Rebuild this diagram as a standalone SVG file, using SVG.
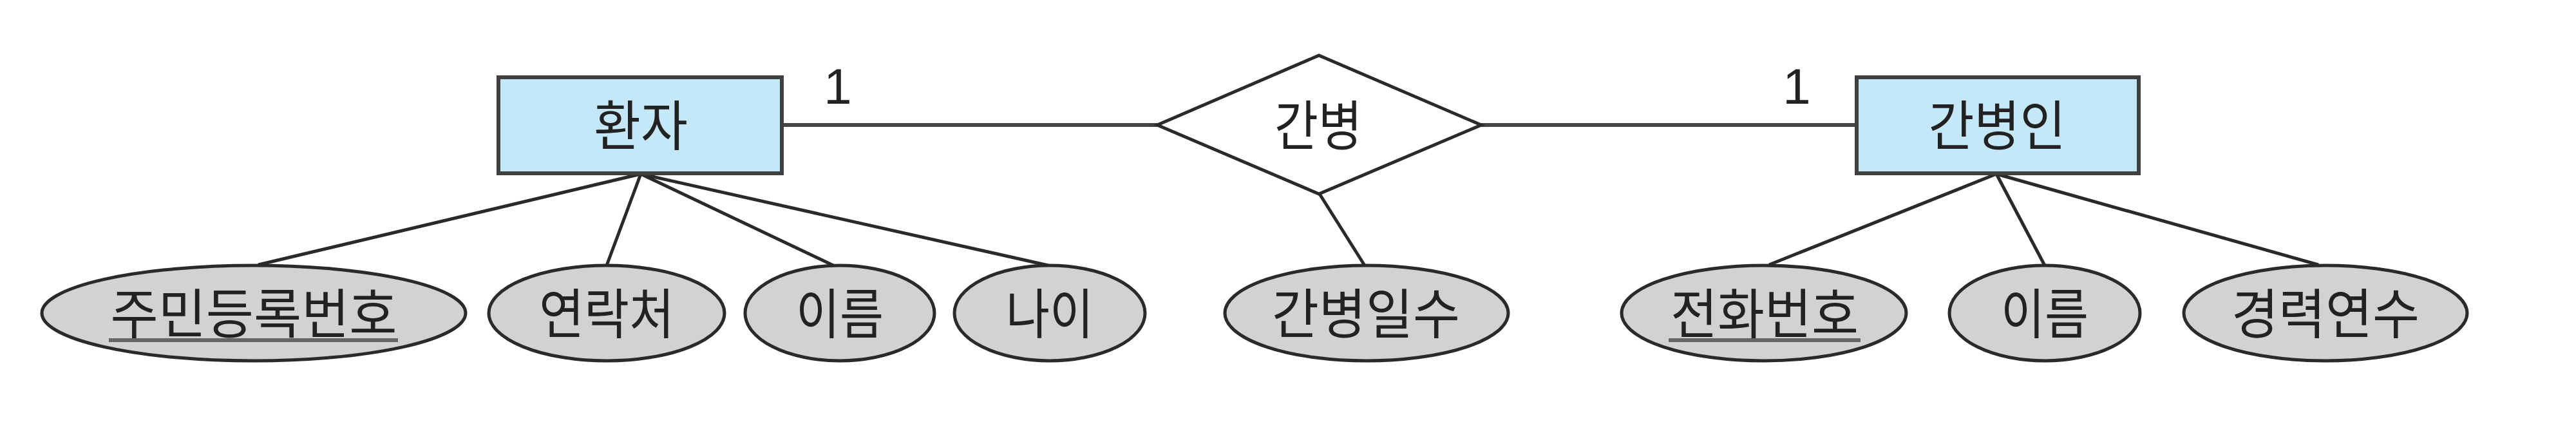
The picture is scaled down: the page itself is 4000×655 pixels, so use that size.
<svg xmlns="http://www.w3.org/2000/svg" width="4000" height="655" viewBox="0 0 4000 655">
<style>
.ent{fill:#c5e8f8;stroke:#404040;stroke-width:6}
.rel{fill:#ffffff;stroke:#2a2a2a;stroke-width:5}
.att{fill:#d1d2d4;stroke:#2a2a2a;stroke-width:5}
.con{stroke:#2a2a2a;stroke-width:5;fill:none}
.hcon{stroke:#454545;stroke-width:6;fill:none}
.lbl{font-family:"Noto Sans CJK KR","Noto Sans CJK SC",sans-serif;font-size:84px;fill:#222;text-anchor:middle}
.card{font-family:"Liberation Sans",Arial,sans-serif;font-size:78px;fill:#222;text-anchor:middle}
.ul{stroke:#666;stroke-width:6}
</style>
<rect width="4000" height="655" fill="#ffffff"/>
<g id="connectors">
<line class="hcon" x1="1214" y1="194" x2="1797" y2="194"/>
<line class="hcon" x1="2300" y1="194" x2="2883" y2="194"/>
<line class="con" x1="995" y1="270" x2="401" y2="411"/>
<line class="con" x1="995" y1="270" x2="942" y2="412"/>
<line class="con" x1="995" y1="270" x2="1294" y2="412"/>
<line class="con" x1="995" y1="270" x2="1628" y2="412"/>
<line class="con" x1="2049" y1="301" x2="2119" y2="412"/>
<line class="con" x1="3100" y1="270" x2="2747" y2="411"/>
<line class="con" x1="3100" y1="270" x2="3175" y2="412"/>
<line class="con" x1="3100" y1="270" x2="3600" y2="411"/>
<text class="card" x="1301" y="161">1</text>
<text class="card" x="2790" y="161">1</text>
</g>
<g id="patient">
<rect class="ent" x="774" y="120" width="440" height="149"/>
<text class="lbl" x="995" y="226" textLength="146" lengthAdjust="spacingAndGlyphs">환자</text>
</g>
<g id="care">
<polygon class="rel" points="1797,194 2048,86 2300,194 2048,301"/>
<text class="lbl" x="2047" y="226" textLength="136" lengthAdjust="spacingAndGlyphs">간병</text>
</g>
<g id="caregiver">
<rect class="ent" x="2883" y="120" width="438" height="149"/>
<text class="lbl" x="3101" y="226" textLength="213" lengthAdjust="spacingAndGlyphs">간병인</text>
</g>
<g id="attr-rrn">
<ellipse class="att" cx="394" cy="486" rx="329" ry="74"/>
<text class="lbl" x="394" y="518" textLength="445" lengthAdjust="spacingAndGlyphs">주민등록번호</text>
<line class="ul" x1="169" y1="528" x2="618" y2="528"/>
</g>
<g id="attr-contact">
<ellipse class="att" cx="942" cy="486" rx="183" ry="74"/>
<text class="lbl" x="942" y="518" textLength="210" lengthAdjust="spacingAndGlyphs">연락처</text>
</g>
<g id="attr-name1">
<ellipse class="att" cx="1304" cy="486" rx="147" ry="74"/>
<text class="lbl" x="1304" y="518" textLength="136" lengthAdjust="spacingAndGlyphs">이름</text>
</g>
<g id="attr-age">
<ellipse class="att" cx="1630" cy="486" rx="148" ry="74"/>
<text class="lbl" x="1630" y="518" textLength="136" lengthAdjust="spacingAndGlyphs">나이</text>
</g>
<g id="attr-days">
<ellipse class="att" cx="2122" cy="486" rx="220" ry="74"/>
<text class="lbl" x="2121" y="518" textLength="292" lengthAdjust="spacingAndGlyphs">간병일수</text>
</g>
<g id="attr-phone">
<ellipse class="att" cx="2739" cy="486" rx="221" ry="74"/>
<text class="lbl" x="2740" y="518" textLength="292" lengthAdjust="spacingAndGlyphs">전화번호</text>
<line class="ul" x1="2591" y1="528" x2="2889" y2="528"/>
</g>
<g id="attr-name2">
<ellipse class="att" cx="3175" cy="486" rx="148" ry="74"/>
<text class="lbl" x="3175" y="518" textLength="136" lengthAdjust="spacingAndGlyphs">이름</text>
</g>
<g id="attr-career">
<ellipse class="att" cx="3611" cy="486" rx="220" ry="74"/>
<text class="lbl" x="3611" y="518" textLength="292" lengthAdjust="spacingAndGlyphs">경력연수</text>
</g>
</svg>
